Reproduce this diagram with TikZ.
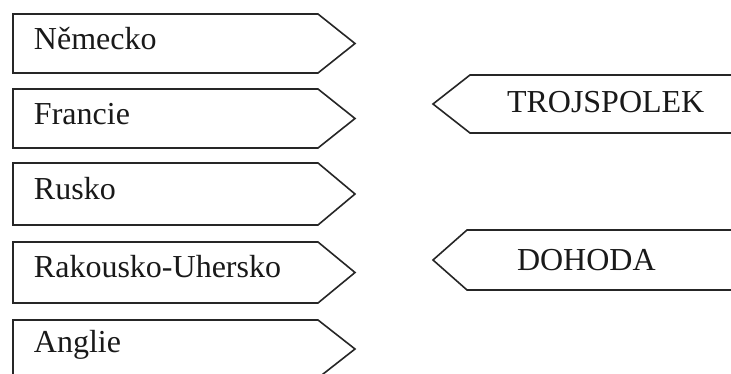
\documentclass[tikz,border=0pt]{standalone}
\usepackage{fontspec}
\setmainfont{Liberation Serif}
\tikzset{
  arrowbox/.style={draw=black!85, line width=1.6pt, line join=miter},
  label/.style={anchor=base west, inner sep=0pt, outer sep=0pt, font=\fontsize{32}{38}\selectfont, text=black!90}
}
\newcommand{\rboxshape}[3]{% top, bottom, tip y : pointing right
  \draw[arrowbox] (13,#1) -- (318,#1) -- (355,#3) -- (318,#2) -- (13,#2) -- cycle;}
\newcommand{\lboxshape}[4]{% top, bottom, tip y, rect left : pointing left
  \draw[arrowbox] (745,#1) -- (#4,#1) -- (433,#3) -- (#4,#2) -- (745,#2);}
\begin{document}
\begin{tikzpicture}[x=1pt,y=-1pt]
\useasboundingbox (0,0) rectangle (731,374);
\clip (0,0) rectangle (731,374);
\fill[white] (0,0) rectangle (731,374);
% left boxes
\rboxshape{14}{73}{43.5}
\rboxshape{89}{148}{118.5}
\rboxshape{163}{225}{194}
\rboxshape{242}{303}{272.5}
\rboxshape{320}{378}{349}
\node[label] (nem) at (34,50) {Německo};
\node[label] (fra) at (34,125) {Francie};
\node[label] (rus) at (34,200) {Rusko};
\node[label] (rak) at (34,277) {Rakousko-Uhersko};
\node[label] (ang) at (34,352) {Anglie};
% right boxes
\lboxshape{75}{133}{104}{470}
\lboxshape{230}{290}{260}{467}
\node[label] (tro) at (507,113) {TROJSPOLEK};
\node[label] (doh) at (517,270) {DOHODA};
\end{tikzpicture}
\end{document}
